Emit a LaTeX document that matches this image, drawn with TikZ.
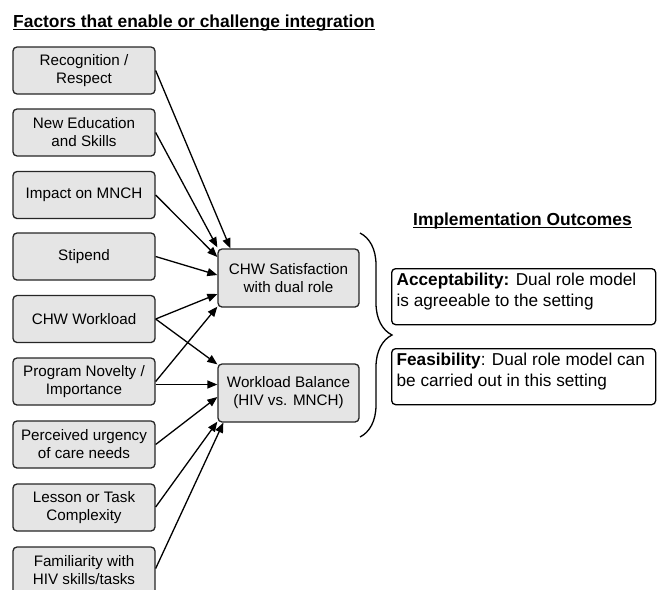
\documentclass[tikz,border=0pt]{standalone}
\usepackage{fontspec}
\setmainfont{Liberation Sans}
\usetikzlibrary{arrows.meta,calc,decorations.pathreplacing}
\begin{document}
\begin{tikzpicture}[x=1pt,y=-1pt,
  lbox/.style={draw=black!85, fill=black!10, rounded corners=4pt, line width=1.3pt,
    minimum width=142pt, minimum height=47pt, inner sep=0pt, align=center,
    font=\fontsize{15.2}{18}\selectfont},
  mbox/.style={lbox, minimum width=141pt, minimum height=58pt},
  obox/.style={draw=black, fill=white, rounded corners=4pt, line width=1.3pt,
    inner xsep=5pt, inner ysep=0pt, anchor=north west},
  arr/.style={-{Triangle[length=10pt,width=8pt]}, line width=1.3pt},
  ttl/.style={font=\fontsize{17.4}{20}\selectfont\bfseries, inner sep=0pt, anchor=base west},
  uline/.style={line width=1.2pt}
]
\clip (0,0) rectangle (660,589);

% titles
\node[ttl] (t1) at (13,27) {Factors that enable or challenge integration};
\draw[uline] ($(t1.base west)+(0,2.5)$) -- ($(t1.base east)+(0,2.5)$);
\node[ttl] (t2) at (413,225) {Implementation Outcomes};
\draw[uline] ($(t2.base west)+(0,2.5)$) -- ($(t2.base east)+(0,2.5)$);

% factor boxes
\node[lbox] (rec)  at (84,70.5)  {Recognition /\\Respect};
\node[lbox] (edu)  at (84,132.5) {New Education\\and Skills};
\node[lbox] (imp)  at (84,195)   {Impact on MNCH};
\node[lbox] (sti)  at (84,256.5) {Stipend};
\node[lbox] (wl)   at (84,319)   {CHW Workload};
\node[lbox] (prog) at (84,381.5) {Program Novelty /\\Importance};
\node[lbox] (urg)  at (84,444.5) {Perceived urgency\\of care needs};
\node[lbox] (les)  at (84,507.5) {Lesson or Task\\Complexity};
\node[lbox] (fam)  at (84,570.5) {Familiarity with\\HIV skills/tasks};

% middle boxes
\node[mbox] (sat) at (288.5,278) {CHW Satisfaction\\with dual role};
\node[mbox] (wb)  at (288.5,393) {Workload Balance\\(HIV vs. MNCH)};

% outcome boxes
\node[obox] (acc) at (391,268) {\parbox[c][56pt][t]{254pt}{\raggedright\fontsize{17.2}{21}\selectfont\rule{0pt}{16.5pt}\textbf{Acceptability:} Dual role model\\is agreeable to the setting}};
\node[obox] (fea) at (391,348) {\parbox[c][56pt][t]{254pt}{\raggedright\fontsize{17.2}{21}\selectfont\rule{0pt}{16.5pt}\textbf{Feasibility}: Dual role model can\\be carried out in this setting}};

% brace
\coordinate (bt) at (360,233);
\coordinate (bb) at (360,437);
\draw[line width=1.3pt, decorate, decoration={brace, amplitude=32pt}] (bt) -- (bb);

% arrows
\draw[arr] (rec.east) -- ($(sat.north west)+(13,0)$);
\draw[arr] (edu.east) -- ($(sat.north west)+(0,-1)$);
\draw[arr] (imp.east) -- ($(sat.west)+(0,-21)$);
\draw[arr] (sti.east) -- ($(sat.west)+(0,-3)$);
\draw[arr] (wl.east) -- ($(sat.west)+(0,16)$);
\draw[arr] (wl.east) -- ($(wb.north west)+(0,1)$);
\draw[arr] ($(prog.east)+(0,0)$) -- ($(sat.south west)+(0,-1)$);
\draw[arr] ($(prog.east)+(0,3)$) -- ($(wb.west)+(0,-8.5)$);
\draw[arr] (urg.east) -- ($(wb.west)+(0,4)$);
\draw[arr] ($(les.east)+(0,-0.5)$) -- ($(wb.south west)+(0,-1)$);
\draw[arr] ($(fam.east)+(0,-2)$) -- ($(wb.south west)+(6,0)$);
\end{tikzpicture}
\end{document}
